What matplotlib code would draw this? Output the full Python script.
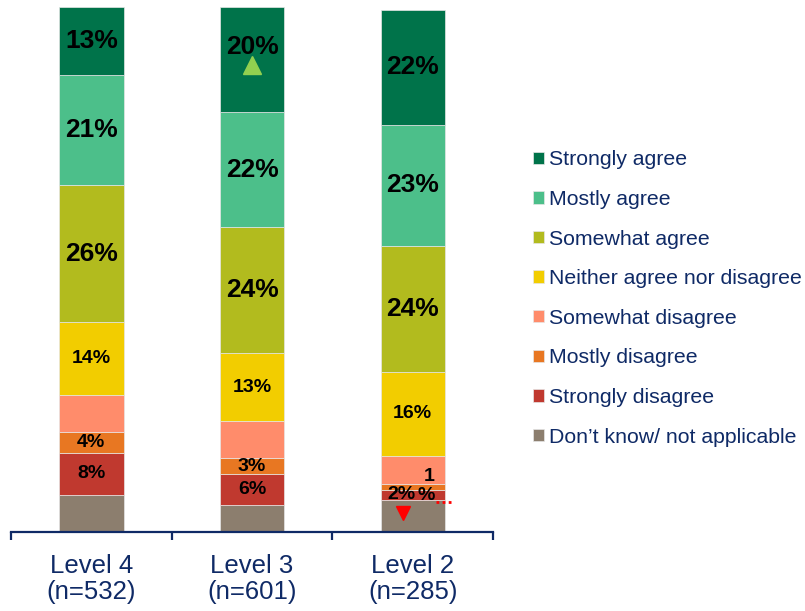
import matplotlib.pyplot as plt
import numpy as np

plt.rcParams['font.family'] = ['Liberation Sans', 'DejaVu Sans']

# survey responses, % of each group
groups = ['Level 4\n(n=532)', 'Level 3\n(n=601)', 'Level 2\n(n=285)']
strongly_agree = [13, 20, 22]
mostly_agree = [21, 22, 23]
somewhat_agree = [26, 24, 24]
neither = [14, 13, 16]
somewhat_disagree = [7, 7, 5.5]
mostly_disagree = [4, 3, 1]
strongly_disagree = [8, 6, 2]
dont_know = [7, 5, 6]

# stacked bottom -> top
series = [
    ("Don\u2019t know/ not applicable", dont_know, '#8C7E6E'),
    ('Strongly disagree', strongly_disagree, '#C0392F'),
    ('Mostly disagree', mostly_disagree, '#E87722'),
    ('Somewhat disagree', somewhat_disagree, '#FF8C6B'),
    ('Neither agree nor disagree', neither, '#F2CD00'),
    ('Somewhat agree', somewhat_agree, '#B2BB1E'),
    ('Mostly agree', mostly_agree, '#4CBF8A'),
    ('Strongly agree', strongly_agree, '#00734A'),
]

# which segments get a label and how big
label_size = {
    'Strongly agree': 19, 'Mostly agree': 19, 'Somewhat agree': 19,
    'Neither agree nor disagree': 14, 'Mostly disagree': 14,
    'Strongly disagree': 14,
}

navy = '#0F2A66'
x = np.arange(len(groups))

fig = plt.figure(figsize=(8.05, 6.11), dpi=100)
ax = fig.add_axes([0.0137, 0.130, 0.5988, 0.8585])

bottom = np.zeros(len(groups))
bars = {}
for name, vals, col in series:
    vals = np.array(vals, dtype=float)
    b = ax.bar(x, vals, 0.4, bottom=bottom, color=col, edgecolor='#E6E6E6',
               linewidth=0.5, label=name)
    bars[name] = (b, bottom.copy(), vals)
    if name in label_size:
        for i in range(len(groups)):
            # small segments of the last bar are labelled separately below
            if i == 2 and name in ('Mostly disagree', 'Strongly disagree'):
                continue
            yc = bottom[i] + vals[i] / 2
            if i == 1 and name == 'Strongly agree':
                yc += 2.3
            ax.text(x[i], yc, f'{vals[i]:.0f}%', ha='center', va='center',
                    fontsize=label_size[name], fontweight='bold', color='black')
    bottom += vals

# crowded labels at the bottom of Level 2
_, b_sd, v_sd = bars['Strongly disagree']
_, b_md, v_md = bars['Mostly disagree']
ax.text(x[2] - 0.07, b_sd[2] + v_sd[2] / 2, f'{v_sd[2]:.0f}%', ha='center',
        va='center', fontsize=14, fontweight='bold')
ax.text(x[2] + 0.137, b_md[2] + 0.7, f'{v_md[2]:.0f}\n%', ha='right',
        va='center', fontsize=14, fontweight='bold', linespacing=1.1)
ax.plot([x[2] + 0.143, x[2] + 0.26], [dont_know[2] - 0.3] * 2, color='red',
        linestyle=(0, (1, 1.2)), linewidth=2)

# significance markers
ax.plot(x[1], 88.9, marker='^', markersize=13, color='#92D050', linestyle='none')
ax.plot(x[2] - 0.06, 3.6, marker='v', markersize=10, color='#FF0000',
        linestyle='none')

ax.set_xlim(-0.5, 2.5)
ax.set_ylim(0, 100)
for s in ['top', 'right', 'left']:
    ax.spines[s].set_visible(False)
ax.spines['bottom'].set_color(navy)
ax.spines['bottom'].set_linewidth(1.6)
ax.set_yticks([])
ax.set_xticks(x)
ax.set_xticklabels(groups, fontsize=18.5, color=navy, linespacing=1.12)
ax.tick_params(axis='x', which='major', length=0, pad=16)
ax.set_xticks([-0.5, 0.5, 1.5, 2.5], minor=True)
ax.tick_params(axis='x', which='minor', length=6, width=1.6, color=navy,
               direction='out')

handles = [bars[n][0] for n, _, _ in series][::-1]
labels = [n for n, _, _ in series][::-1]
leg = fig.legend(handles, labels, loc='center left',
                 bbox_to_anchor=(0.662, 0.5115), frameon=False, fontsize=15.3,
                 handlelength=0.52, handleheight=0.52, handletextpad=0.25,
                 labelspacing=0.97, borderpad=0, borderaxespad=0)
for t in leg.get_texts():
    t.set_color(navy)

fig.savefig('out.png', dpi=100)
